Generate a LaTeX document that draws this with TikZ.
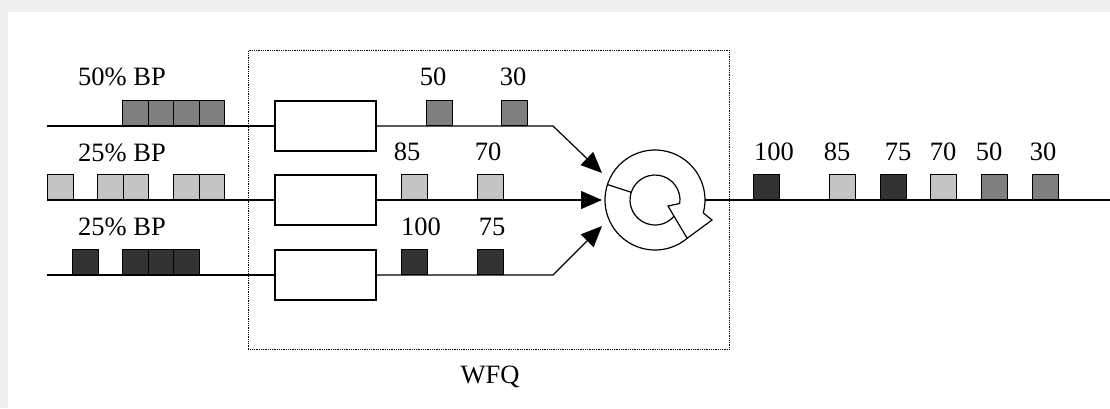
\documentclass[tikz,border=0pt]{standalone}
\usepackage{fontspec}
\setmainfont{Liberation Serif}
\usetikzlibrary{arrows.meta}

\definecolor{pdark}{HTML}{333333}
\definecolor{pmid}{HTML}{7F7F7F}
\definecolor{plight}{HTML}{C4C4C4}

\begin{document}
\begin{tikzpicture}[x=1pt, y=-1pt,
      font=\fontsize{26.5}{31}\selectfont,
      pkt/.style={draw, line width=1.2pt, anchor=south west, inner sep=0pt,
                  minimum width=25.5pt, minimum height=25pt},
      qbox/.style={draw, line width=1.2pt, minimum width=101pt,
                   minimum height=50pt, inner sep=0pt},
      wire/.style={line width=1.2pt},
      arr/.style={wire, -{Triangle[length=21pt, width=18pt]}},
      lbl/.style={inner sep=0pt}
    ]
    \useasboundingbox (0,0) rectangle (1110,408);
    \fill[black!6] (0,0) rectangle (1110,12);
    \fill[black!6] (0,0) rectangle (8,408);

    % WFQ box, queues and scheduler
    \node[draw, densely dotted, line width=0.8pt, minimum width=481pt,
          minimum height=299pt, anchor=north west, inner sep=0pt] (wfq) at (248,50) {};
    \node[lbl] (wfqlbl) at (490,377) {WFQ};
    \node[qbox] (q1) at (325.5,126) {};
    \node[qbox] (q2) at (325.5,200) {};
    \node[qbox] (q3) at (325.5,275) {};
    \node[circle, minimum size=100pt, inner sep=0pt] (sched) at (655,200) {};

    \coordinate (in1) at (47,126);
    \coordinate (in2) at (47,200);
    \coordinate (in3) at (47,275);
    \coordinate (b1) at (553,126);
    \coordinate (b3) at (553,275);
    \coordinate (t1) at (602,173);
    \coordinate (t2) at (602,200);
    \coordinate (t3) at (602,226);
    \coordinate (outend) at (1110,200);

    \draw[wire] (in1) -- (q1);
    \draw[wire] (in2) -- (q2);
    \draw[wire] (in3) -- (q3);
    \draw[arr] (q1) -- (b1) -- (t1);
    \draw[arr] (q2) -- (t2);
    \draw[arr] (q3) -- (b3) -- (t3);
    \draw[wire] (sched) -- (outend);

    % circular arrow
    \coordinate (rb) at ([shift={(50:50)}]sched.center);
    \draw[wire, fill=white] ([shift={(15:50)}]sched.center)
      arc[start angle=15, end angle=-310, radius=50] -- (712,220) -- cycle;
    \draw[wire] ([shift={(8:25)}]sched.center) -- (668,206) -- (rb);
    \draw[wire] ([shift={(8:25)}]sched.center)
      arc[start angle=8, end angle=-320, radius=25];
    \draw[wire] ([shift={(198:50)}]sched.center) -- ([shift={(198:25)}]sched.center);

    % input flows
    \node[lbl] (bp1) at (122,77) {50\% BP};
    \node[lbl] (bp2) at (122,153) {25\% BP};
    \node[lbl] (bp3) at (122,227) {25\% BP};
    \foreach \x [count=\i] in {122,147.5,173,198.5}
      \node[pkt, fill=pmid] (pa\i) at (\x,126) {};
    \foreach \x [count=\i] in {47,97,122.5,173,198.5}
      \node[pkt, fill=plight] (pb\i) at (\x,200) {};
    \foreach \x [count=\i] in {72,122,147.5,173}
      \node[pkt, fill=pdark] (pc\i) at (\x,275) {};

    % queued packets
    \node[pkt, fill=pmid] (qa1) at (426,126) {};
    \node[pkt, fill=pmid] (qa2) at (501,126) {};
    \node[pkt, fill=plight] (qb1) at (401,200) {};
    \node[pkt, fill=plight] (qb2) at (477,200) {};
    \node[pkt, fill=pdark] (qc1) at (401,275) {};
    \node[pkt, fill=pdark] (qc2) at (477,275) {};
    \node[lbl] at (433,77) {50};
    \node[lbl] at (513,77) {30};
    \node[lbl] at (407,152) {85};
    \node[lbl] at (488,152) {70};
    \node[lbl] at (421,227) {100};
    \node[lbl] at (492,227) {75};

    % output order
    \foreach \x/\c/\t/\lx [count=\i] in {753/pdark/100/774, 829/plight/85/837,
        880/pdark/75/898, 930/plight/70/943, 981/pmid/50/989, 1032/pmid/30/1043} {
      \node[pkt, fill=\c] (po\i) at (\x,200) {};
      \node[lbl] (lo\i) at (\lx,152) {\t};
    }
  \end{tikzpicture}
\end{document}
